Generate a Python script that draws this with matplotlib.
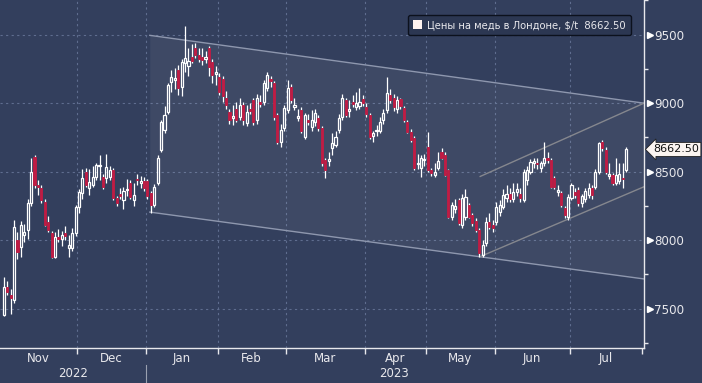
import matplotlib
matplotlib.use("Agg")
import matplotlib.pyplot as plt
import matplotlib.transforms as mtransforms
from matplotlib.patches import Patch
import numpy as np
import pandas as pd

# LME copper, daily candles, Nov 2022 - Jul 2023
holidays = ["2022-12-26", "2022-12-27", "2023-01-02", "2023-04-07",
            "2023-04-10", "2023-05-01", "2023-05-08", "2023-05-29"]

opens = [7454, 7660, 7600, 7563, 8001, 7952, 8040, 8074, 8270, 8609, 8400, 8380, 8281, 8135, 8050, 7879, 8020, 8010, 8050, 7940, 7940, 8050,
         8245, 8342, 8500, 8379, 8403, 8463, 8540, 8463, 8452, 8460, 8512, 8306, 8340, 8293, 8365, 8415, 8290, 8450, 8420, 8430,
         8430, 8342, 8257, 8417, 8658, 8804, 8938, 9157, 9170, 9242, 9120, 9291, 9270, 9340, 9400, 9352, 9340, 9325, 9400, 9303, 9210,
         9193, 9180, 9035, 8938, 8895, 8960, 8902, 8987, 8853, 8955, 9023, 8877, 9005, 9011, 9109, 9180, 9145, 8914, 8719, 8817,
         8950, 9120, 8975, 8895, 8950, 8756, 8880, 8828, 8865, 8890, 8817, 8585, 8575, 8670, 8695, 8804, 8901, 9023, 8945, 9005, 8970, 8980, 9030,
         8970, 8914, 8760, 8795, 8800, 8877, 8950, 9060, 9040, 8960, 9030, 8963, 8865, 8792, 8744, 8555, 8525, 8585,
         8682, 8510, 8475, 8525, 8640, 8622, 8512, 8171, 8225, 8293, 8111, 8171, 8257, 8184, 8140, 8074, 7890, 7977, 8135, 8110,
         8135, 8208, 8245, 8310, 8340, 8300, 8350, 8340, 8293, 8440, 8500, 8565, 8565, 8530, 8560, 8600, 8585, 8452, 8355, 8342, 8232, 8171,
         8306, 8350, 8367, 8270, 8300, 8330, 8380, 8390, 8500, 8720, 8658, 8470, 8475, 8415, 8430, 8455, 8512]
highs = [7733, 7700, 7640, 8147, 8060, 8140, 8120, 8300, 8600, 8620, 8440, 8400, 8300, 8180, 8070, 8060, 8080, 8070, 8100, 8040, 8090, 8260,
         8370, 8520, 8530, 8520, 8540, 8560, 8622, 8480, 8630, 8540, 8530, 8320, 8380, 8390, 8450, 8440, 8420, 8480, 8470, 8460,
         8450, 8360, 8410, 8620, 8880, 8980, 9150, 9240, 9260, 9280, 9320, 9560, 9400, 9430, 9440, 9400, 9400, 9380, 9420, 9320, 9270,
         9220, 9200, 9090, 8960, 8990, 9010, 9040, 9010, 8990, 9000, 9040, 9070, 9060, 9170, 9230, 9200, 9160, 8930, 8850, 8990,
         9170, 9140, 9040, 8960, 8970, 8930, 8920, 8950, 8960, 8910, 8830, 8600, 8640, 8780, 8800, 8920, 9070, 9040, 9020, 9060, 9080, 9110, 9060,
         9000, 8930, 8800, 8840, 8900, 8960, 9193, 9100, 9070, 9050, 9040, 8980, 8880, 8810, 8760, 8630, 8620, 8630,
         8790, 8530, 8560, 8640, 8670, 8640, 8520, 8280, 8300, 8310, 8340, 8370, 8270, 8200, 8160, 8090, 8000, 8170, 8200, 8150,
         8280, 8290, 8370, 8400, 8380, 8420, 8420, 8380, 8520, 8540, 8590, 8600, 8600, 8580, 8720, 8640, 8600, 8470, 8400, 8360, 8250, 8340,
         8420, 8380, 8390, 8340, 8380, 8420, 8400, 8520, 8720, 8730, 8680, 8560, 8490, 8600, 8560, 8560, 8680]
lows = [7445, 7600, 7460, 7540, 7860, 7880, 7990, 8010, 8250, 8380, 8330, 8270, 8100, 8060, 7870, 7870, 7990, 7960, 8000, 7880, 7920, 8030,
        8200, 8300, 8390, 8330, 8390, 8440, 8440, 8370, 8420, 8440, 8290, 8250, 8300, 8230, 8320, 8300, 8250, 8400, 8380, 8360,
        8300, 8200, 8240, 8400, 8640, 8780, 8920, 9080, 9100, 9060, 9050, 9230, 9200, 9290, 9330, 9300, 9280, 9290, 9200, 9150, 9130,
        9060, 9010, 8960, 8850, 8840, 8860, 8880, 8840, 8830, 8920, 8840, 8850, 8970, 8990, 9090, 9120, 8880, 8700, 8682, 8800,
        8930, 9000, 8950, 8870, 8780, 8740, 8840, 8800, 8830, 8800, 8540, 8454, 8540, 8620, 8680, 8780, 8880, 8900, 8900, 8970, 8950, 8960, 8980,
        8900, 8740, 8720, 8760, 8780, 8850, 8930, 9000, 8940, 8930, 8960, 8860, 8780, 8720, 8510, 8520, 8460, 8540,
        8500, 8470, 8460, 8510, 8590, 8470, 8160, 8150, 8200, 8110, 8090, 8150, 8160, 8100, 8060, 7880, 7880, 7960, 8080, 8060,
        8110, 8180, 8230, 8280, 8280, 8280, 8320, 8280, 8280, 8400, 8480, 8530, 8520, 8500, 8540, 8560, 8380, 8370, 8320, 8240, 8160, 8150,
        8290, 8310, 8250, 8240, 8280, 8310, 8300, 8370, 8480, 8650, 8480, 8450, 8400, 8400, 8410, 8380, 8500]
closes = [7660, 7624, 7575, 8098, 7916, 8111, 8060, 8269, 8500, 8400, 8390, 8293, 8111, 8074, 7879, 8025, 8010, 8040, 8030, 7965, 8050, 8245,
          8355, 8452, 8403, 8427, 8463, 8549, 8548, 8390, 8536, 8510, 8306, 8270, 8325, 8357, 8372, 8318, 8330, 8440, 8435, 8379,
          8320, 8257, 8390, 8600, 8865, 8914, 9133, 9193, 9185, 9109, 9303, 9327, 9310, 9310, 9352, 9320, 9316, 9335, 9266, 9206, 9225,
          9084, 9050, 8987, 8877, 8905, 8880, 8987, 8877, 8938, 8945, 8865, 9035, 8995, 9145, 9206, 9160, 8901, 8719, 8804, 8963,
          9109, 9023, 8985, 8905, 8800, 8914, 8865, 8877, 8926, 8820, 8560, 8512, 8590, 8707, 8756, 8890, 9035, 8914, 8955, 8995, 9000, 9010, 9000,
          8920, 8756, 8780, 8805, 8860, 8925, 9072, 9020, 8970, 9020, 8980, 8877, 8792, 8731, 8525, 8565, 8597, 8595,
          8512, 8490, 8500, 8580, 8600, 8476, 8171, 8257, 8250, 8123, 8306, 8318, 8171, 8123, 8075, 7905, 7965, 8135, 8098, 8090,
          8245, 8257, 8330, 8340, 8300, 8350, 8370, 8310, 8500, 8512, 8573, 8575, 8555, 8560, 8597, 8585, 8390, 8390, 8365, 8257, 8184, 8318,
          8403, 8330, 8270, 8320, 8360, 8380, 8330, 8500, 8707, 8670, 8500, 8480, 8420, 8475, 8480, 8445, 8662.5]

# trend channels drawn on the chart (trading-day index, price)
down_x = [42.7, 187.2]
down_upper = [9495, 9000]
down_lower = [8205, 7717]
up_x = [139.3, 187.2]
up_upper = [8465, 9000]
up_lower = [7880, 8390]

last_price = 8662.50
series_label = "Цены на медь в Лондоне, $/t"

BG = "#333f5d"
RED = "#c01c44"
FG = "#e8e8ec"

dates = pd.bdate_range("2022-11-01", "2023-07-25")
dates = dates[~dates.isin(pd.to_datetime(holidays))]
x = np.arange(len(dates))
o = np.array(opens, dtype=float)
h = np.array(highs, dtype=float)
l = np.array(lows, dtype=float)
c = np.array(closes, dtype=float)

fig = plt.figure(figsize=(7.02, 3.83), dpi=100, facecolor=BG)
ax = fig.add_axes([0.0, 35 / 383, 644 / 702, 348 / 383], facecolor=BG)

# channels
ax.fill_between(down_x, down_lower, down_upper, color="white", alpha=0.055, lw=0, zorder=1)
ax.plot(down_x, down_upper, color="#8e97ae", lw=1.0, zorder=2)
ax.plot(down_x, down_lower, color="#8e97ae", lw=1.0, zorder=2)
ax.plot(up_x, up_upper, color="#85878e", lw=1.0, zorder=2)
ax.plot(up_x, up_lower, color="#85878e", lw=1.0, zorder=2)

# candles
top = np.maximum(o, c)
bot = np.minimum(o, c)
up = c >= o
ax.vlines(x, top, h, color="white", lw=0.9, zorder=3)
ax.vlines(x, l, bot, color="white", lw=0.9, zorder=3)
w = 0.62
ax.bar(x[up], (top - bot)[up], bottom=bot[up], width=w, facecolor="none",
       edgecolor="white", lw=0.9, zorder=4)
ax.bar(x[~up], (top - bot)[~up], bottom=bot[~up], width=w, facecolor=RED,
       edgecolor=RED, lw=0.6, zorder=4)

# axes ranges
ax.set_xlim(-1.1, 187.2)
ax.set_ylim(7213, 9753)

# month boundaries
month_idx = [i for i in range(1, len(dates)) if dates[i].month != dates[i - 1].month]
bounds = [i - 0.5 for i in month_idx] + [186.5]
ax.set_xticks(bounds)
ax.set_xticklabels([])
ax.tick_params(axis="x", length=4, width=1, color=FG, direction="out")

edges = [ax.get_xlim()[0]] + bounds
names = ["Nov", "Dec", "Jan", "Feb", "Mar", "Apr", "May", "Jun", "Jul"]
trans_x = mtransforms.blended_transform_factory(ax.transData, ax.transAxes)
for k, nm in enumerate(names):
    ax.text((edges[k] + edges[k + 1]) / 2, -0.03, nm, transform=trans_x,
            ha="center", va="center", color=FG, fontsize=8.5)
ax.text((edges[0] + bounds[1]) / 2, -0.073, "2022", transform=trans_x,
        ha="center", va="center", color=FG, fontsize=8.5)
ax.text((bounds[1] + bounds[-1]) / 2, -0.073, "2023", transform=trans_x,
        ha="center", va="center", color=FG, fontsize=8.5)
ax.plot([bounds[1], bounds[1]], [-0.05, -0.11], transform=trans_x, color="#9aa0b0",
        lw=0.8, clip_on=False)

# y axis on the right
ax.yaxis.tick_right()
ax.set_yticks([7500, 8000, 8500, 9000, 9500])
ax.set_yticks(np.arange(7250, 9800, 500), minor=True)
ax.tick_params(axis="y", which="major", length=0, pad=7.5, labelsize=8.6, labelcolor=FG)
ax.tick_params(axis="y", which="minor", length=3, width=1, color=FG, direction="out")
trans_y = mtransforms.blended_transform_factory(ax.transAxes, ax.transData)
ax.plot([1.009] * 5, [7500, 8000, 8500, 9000, 9500], ls="none", marker=">",
        ms=4.5, color="white", transform=trans_y, clip_on=False)

# grid
for b in bounds[:-1]:
    ax.axvline(b, color="#5f6d8f", lw=0.8, ls=(0, (2, 3)), zorder=0.5)
for yv in [7500, 8000, 8500, 9000, 9500]:
    ax.axhline(yv, color="#5f6d8f", lw=0.8, ls=(0, (2, 3)), zorder=0.5)

for side in ["top", "left"]:
    ax.spines[side].set_visible(False)
for side in ["right", "bottom"]:
    ax.spines[side].set_color(FG)
    ax.spines[side].set_linewidth(1.0)

# last price callout
ax.text(1.014, last_price, f"{last_price:.2f}", transform=trans_y, ha="left", va="center",
        fontsize=8.0, color="#111111", clip_on=False,
        bbox=dict(boxstyle="larrow,pad=0.18", fc="#fbf4f1", ec="#222222", lw=0.6))

# legend
leg = ax.legend(handles=[Patch(facecolor="#fff3f0", edgecolor="none")],
                labels=[f"{series_label}  {last_price:.2f}"],
                loc="upper right", bbox_to_anchor=(636 / 644, 1 - 10 / 348),
                fontsize=7.2, handlelength=0.9, handleheight=0.9, handletextpad=0.5,
                borderpad=0.5, fancybox=True, framealpha=1, labelcolor=FG)
leg.get_frame().set_facecolor("#2c3752")
leg.get_frame().set_edgecolor("#0c111d")
leg.get_frame().set_linewidth(1.0)

fig.savefig("out.png", dpi=100, facecolor=BG)
